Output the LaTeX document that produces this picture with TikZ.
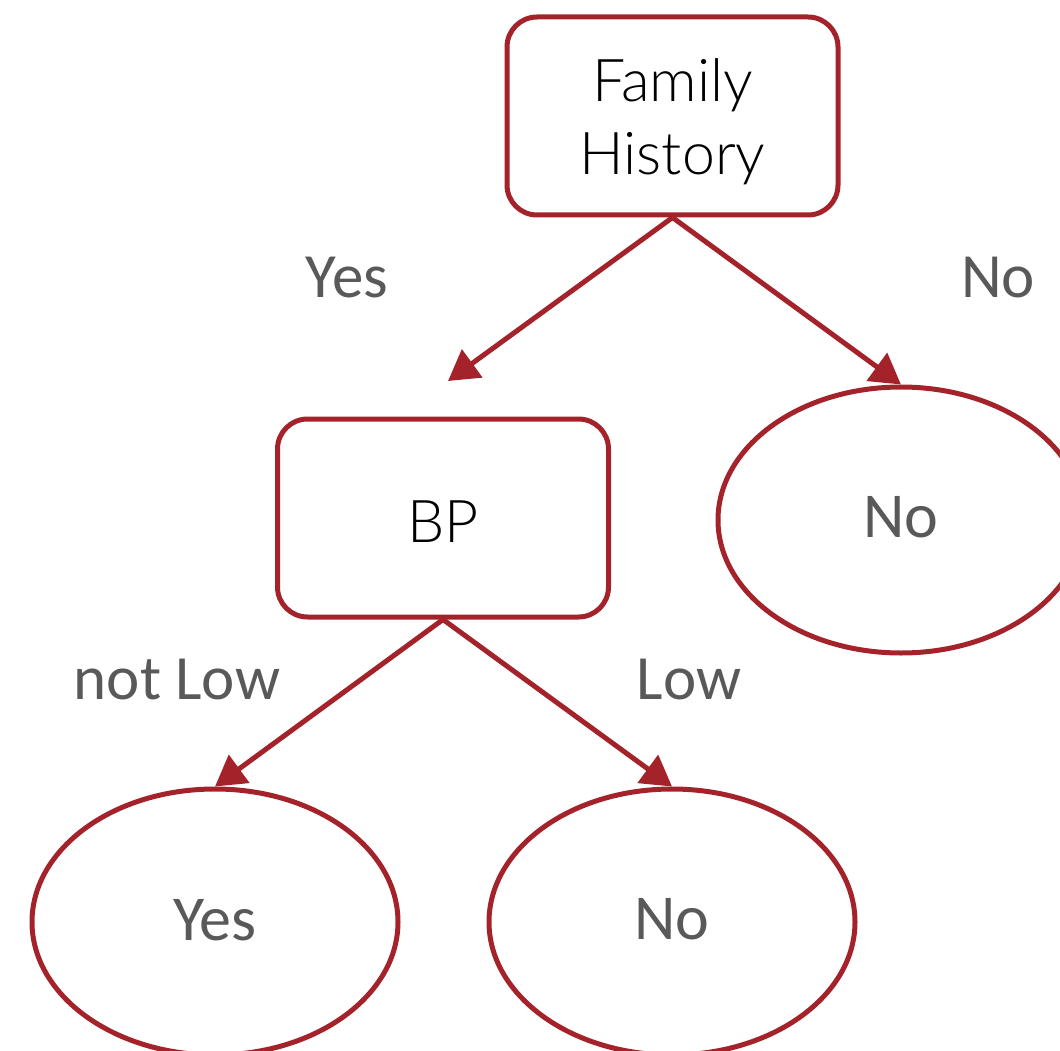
\documentclass[tikz,border=0pt]{standalone}
\usepackage{fontspec}
\setmainfont{Carlito}
\newfontfamily\boxfont{Lato Light}
\usetikzlibrary{arrows.meta,shapes.geometric}
\definecolor{treered}{HTML}{A4232B}
\definecolor{labelgray}{HTML}{595959}
\tikzset{
  decision/.style={draw=treered, line width=5pt, rounded corners=30pt,
    minimum width=331pt, minimum height=198pt, inner sep=0pt, fill=white},
  leaf/.style={draw=treered, line width=5pt, ellipse,
    minimum width=366pt, minimum height=266pt, inner sep=0pt},
  branch/.style={draw=treered, line width=5pt,
    -{Triangle[length=30pt,width=34pt]}},
  boxtext/.style={font=\boxfont\fontsize{59}{70}\selectfont, text=black, anchor=base},
  leaftext/.style={font=\fontsize{64}{76}\selectfont, text=labelgray, anchor=base},
  edgetext/.style={font=\fontsize{63}{75}\selectfont, text=labelgray, anchor=base}
}
\begin{document}
\begin{tikzpicture}[x=1pt, y=-1pt]
  \useasboundingbox (0,0) rectangle (1060,1051);
  \clip (0,0) rectangle (1060,1051);

  % decision boxes
  \node[decision] (fh) at (672.5,116) {};
  \node[boxtext] (fhA) at (672.5,102) {Family};
  \node[boxtext] (fhB) at (672.5,175) {History};
  \node[decision] (bp) at (443,518) {};
  \node[boxtext] (bpT) at (443,542) {BP};

  % leaves
  \node[leaf] (noR) at (901,520) {};
  \node[leaftext] (noRT) at (901,537) {No};
  \node[leaf] (yes) at (215,922) {};
  \node[leaftext] (yesT) at (215,940) {Yes};
  \node[leaf] (noB) at (672,922) {};
  \node[leaftext] (noBT) at (672,939) {No};

  % branches
  \coordinate (yesEnd) at (448,381);
  \draw[branch] (fh.south) -- (yesEnd);
  \draw[branch] (fh.south) -- (noR.north);
  \draw[branch] (bp.south) -- (yes.north);
  \draw[branch] (bp.south) -- (noB.north);

  % branch labels
  \node[edgetext] (lYes) at (347,297) {Yes};
  \node[edgetext] (lNo) at (998,297) {No};
  \node[edgetext] (lNotLow) at (177,699) {not Low};
  \node[edgetext] (lLow) at (689,699) {Low};
\end{tikzpicture}
\end{document}
